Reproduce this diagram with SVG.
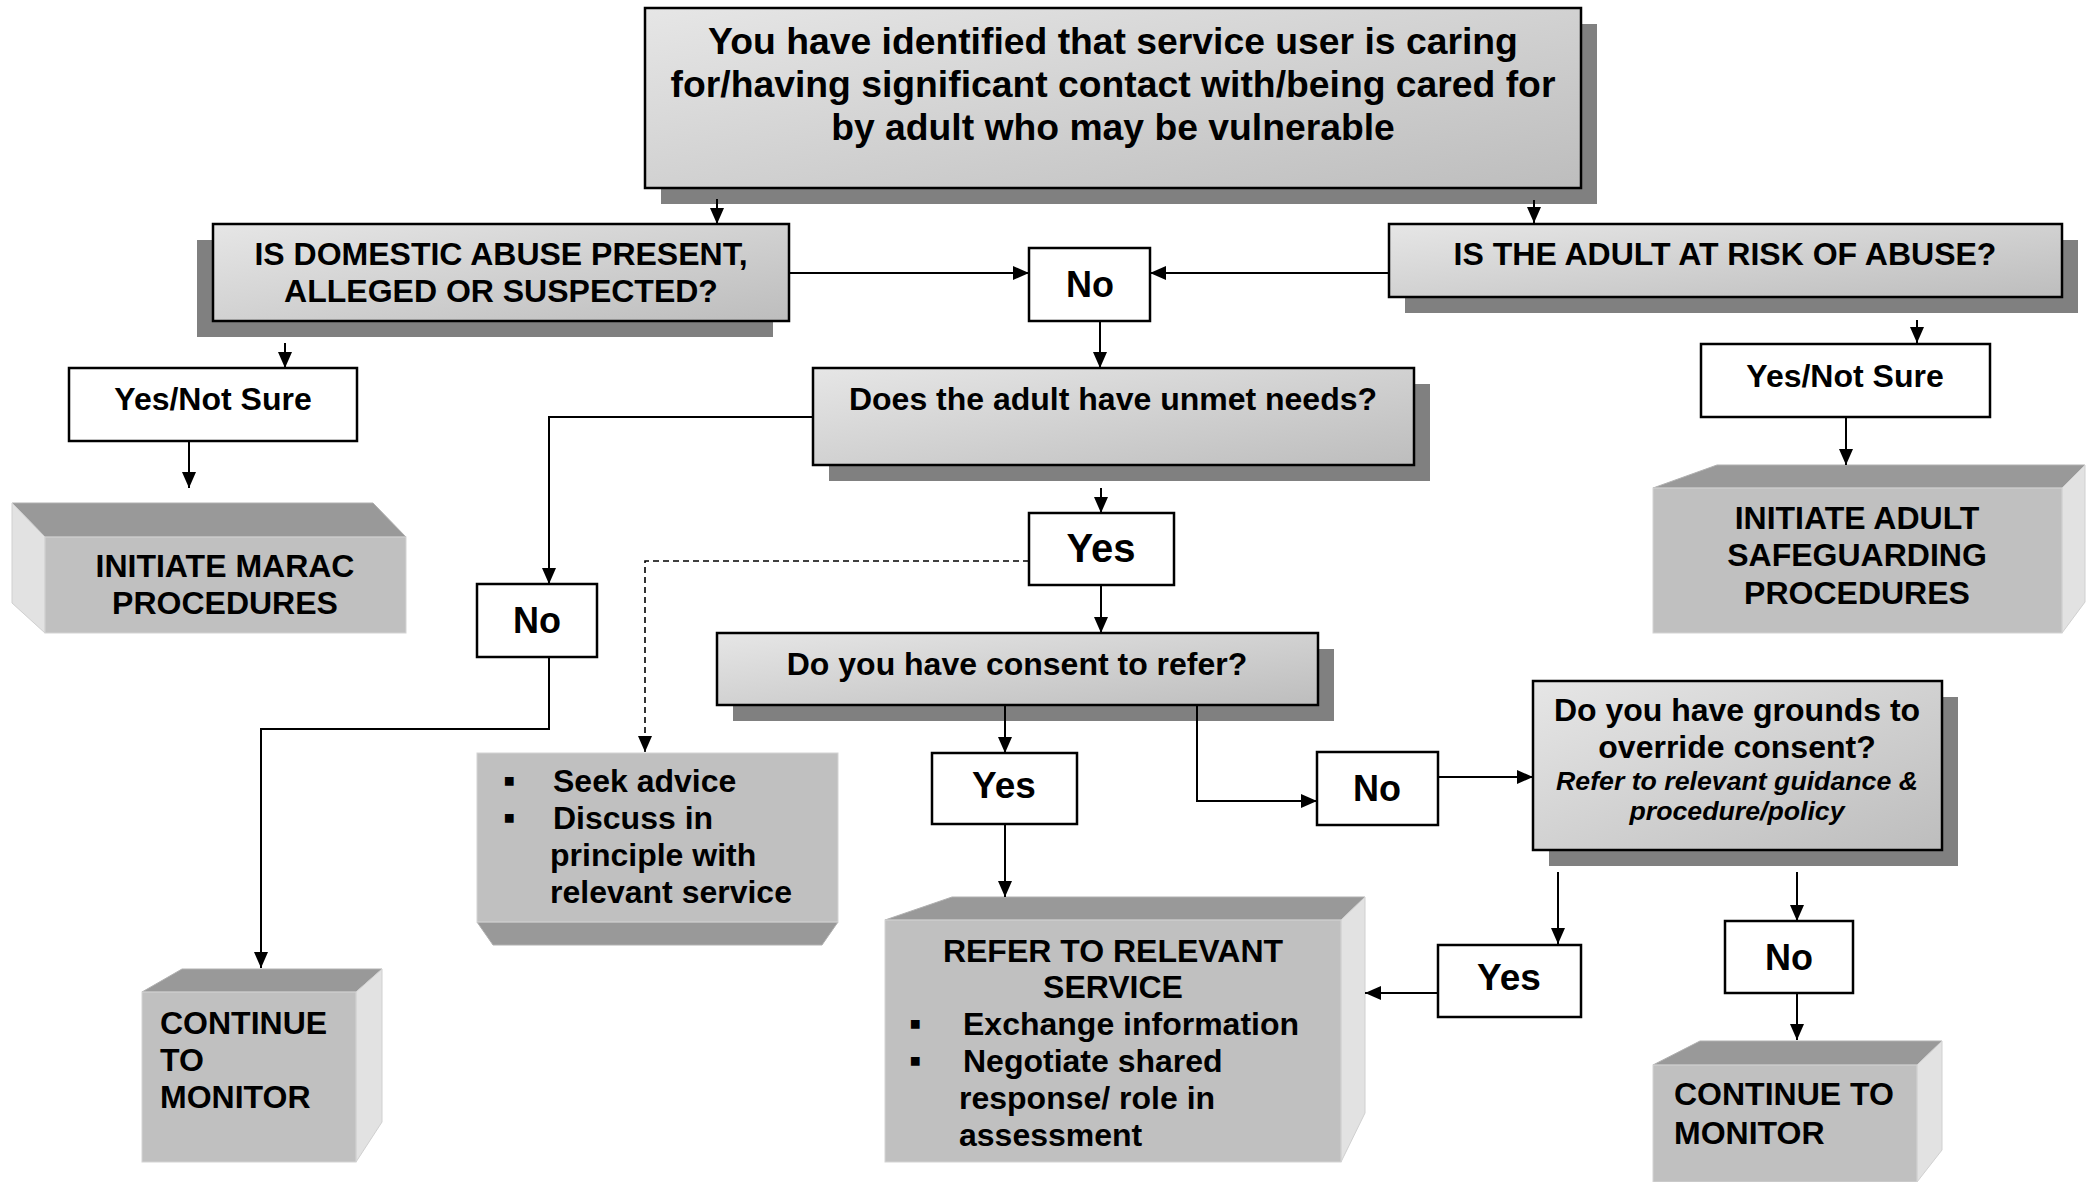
<svg xmlns="http://www.w3.org/2000/svg" width="2096" height="1182" viewBox="0 0 2096 1182">
  <defs>
    <linearGradient id="boxGrad" x1="0" y1="0" x2="1" y2="1">
      <stop offset="0" stop-color="#e6e6e6"/>
      <stop offset="1" stop-color="#bdbdbd"/>
    </linearGradient>
    <marker id="ah" viewBox="0 0 16 14" refX="16" refY="7" markerWidth="16" markerHeight="14" markerUnits="userSpaceOnUse" orient="auto">
      <path d="M0,0 L16,7 L0,14 z" fill="#000"/>
    </marker>
  </defs>
  <style>
    .t { font-family: "Liberation Sans", Arial, sans-serif; font-weight: bold; fill: #000; }
    .c { text-anchor: middle; }
    .f32 { font-size: 32px; }
    .it { font-style: italic; font-size: 26.7px; }
    .bul { font-size: 35px; }
    .box { fill: url(#boxGrad); stroke: #000; stroke-width: 2.5; }
    .plain { fill: #fff; stroke: #000; stroke-width: 2.5; }
    .shadow { fill: #808080; }
    .front { fill: #c0c0c0; stroke: #d4d4d4; stroke-width: 1; }
    .topface { fill: #999999; stroke: #b0b0b0; stroke-width: 1; }
    .sideface { fill: #e2e2e2; stroke: #d0d0d0; stroke-width: 1; }
    .conn { fill: none; stroke: #000; stroke-width: 2; }
    .arrow { marker-end: url(#ah); }
    .dash { stroke-dasharray: 6 4; stroke-width: 1.6; }
  </style>

  <rect width="2096" height="1182" fill="#fff"/>

  <!-- start node -->
  <g id="start">
    <rect class="shadow" x="661" y="24" width="936" height="180"/>
    <rect class="box" x="645" y="8" width="936" height="180"/>
    <text class="t c" font-size="37.3" x="1113" y="54">You have identified that service user is caring</text>
    <text class="t c" font-size="37.3" x="1113" y="97">for/having significant contact with/being cared for</text>
    <text class="t c" font-size="37.3" x="1113" y="140">by adult who may be vulnerable</text>
  </g>

  <g id="domestic-abuse">
    <rect class="shadow" x="197" y="240" width="576" height="97"/>
    <rect class="box" x="213" y="224" width="576" height="97"/>
    <text class="t c f32" x="501" y="265">IS DOMESTIC ABUSE PRESENT,</text>
    <text class="t c f32" x="501" y="302">ALLEGED OR SUSPECTED?</text>
  </g>

  <g id="adult-at-risk">
    <rect class="shadow" x="1405" y="240" width="673" height="73"/>
    <rect class="box" x="1389" y="224" width="673" height="73"/>
    <text class="t c f32" x="1725" y="265">IS THE ADULT AT RISK OF ABUSE?</text>
  </g>

  <g id="no-top">
    <rect class="plain" x="1029" y="248" width="121" height="73"/>
    <text class="t c" font-size="36" x="1090" y="297">No</text>
  </g>

  <g id="yes-not-sure-left">
    <rect class="plain" x="69" y="368" width="288" height="73"/>
    <text class="t c f32" x="213" y="410">Yes/Not Sure</text>
  </g>

  <g id="yes-not-sure-right">
    <rect class="plain" x="1701" y="344" width="289" height="73"/>
    <text class="t c f32" x="1845" y="387">Yes/Not Sure</text>
  </g>

  <g id="unmet-needs">
    <rect class="shadow" x="829" y="384" width="601" height="97"/>
    <rect class="box" x="813" y="368" width="601" height="97"/>
    <text class="t c f32" x="1113" y="410">Does the adult have unmet needs?</text>
  </g>

  <g id="marac">
    <polygon class="topface" points="12,503 373,503 406,537 45,537"/>
    <polygon class="sideface" points="12,503 45,537 45,633 12,603"/>
    <rect class="front" x="45" y="537" width="361" height="96"/>
    <text class="t c f32" x="225" y="577">INITIATE MARAC</text>
    <text class="t c f32" x="225" y="614">PROCEDURES</text>
  </g>

  <g id="safeguarding">
    <polygon class="topface" points="1717,465 2085,465 2062,488 1653,488"/>
    <polygon class="sideface" points="2062,488 2085,465 2085,602 2062,633"/>
    <rect class="front" x="1653" y="488" width="409" height="145"/>
    <text class="t c f32" x="1857" y="529">INITIATE ADULT</text>
    <text class="t c f32" x="1857" y="566">SAFEGUARDING</text>
    <text class="t c f32" x="1857" y="604">PROCEDURES</text>
  </g>

  <g id="yes-center">
    <rect class="plain" x="1029" y="513" width="145" height="72"/>
    <text class="t c" font-size="40" x="1101" y="562">Yes</text>
  </g>

  <g id="no-left">
    <rect class="plain" x="477" y="584" width="120" height="73"/>
    <text class="t c" font-size="36" x="537" y="633">No</text>
  </g>

  <g id="consent">
    <rect class="shadow" x="733" y="649" width="601" height="72"/>
    <rect class="box" x="717" y="633" width="601" height="72"/>
    <text class="t c f32" x="1017" y="675">Do you have consent to refer?</text>
  </g>

  <g id="grounds">
    <rect class="shadow" x="1549" y="697" width="409" height="169"/>
    <rect class="box" x="1533" y="681" width="409" height="169"/>
    <text class="t c f32" x="1737" y="721">Do you have grounds to</text>
    <text class="t c f32" x="1737" y="758">override consent?</text>
    <text class="t c it" x="1737" y="790">Refer to relevant guidance &amp;</text>
    <text class="t c it" x="1737" y="820">procedure/policy</text>
  </g>

  <g id="seek-advice">
    <polygon class="topface" points="477,922 838,922 822,945 493,945"/>
    <rect class="front" x="477" y="753" width="361" height="169"/>
    <text class="t f32" y="792"><tspan class="bul" x="503">▪</tspan><tspan x="553">Seek advice</tspan></text>
    <text class="t f32" y="829"><tspan class="bul" x="503">▪</tspan><tspan x="553">Discuss in</tspan></text>
    <text class="t f32" x="550" y="866">principle with</text>
    <text class="t f32" x="550" y="903">relevant service</text>
  </g>

  <g id="yes-lower">
    <rect class="plain" x="932" y="753" width="145" height="71"/>
    <text class="t c" font-size="37" x="1004" y="798">Yes</text>
  </g>

  <g id="no-right">
    <rect class="plain" x="1317" y="752" width="121" height="73"/>
    <text class="t c" font-size="36" x="1377" y="801">No</text>
  </g>

  <g id="yes-right">
    <rect class="plain" x="1438" y="945" width="143" height="72"/>
    <text class="t c" font-size="37" x="1509" y="990">Yes</text>
  </g>

  <g id="no-bottom">
    <rect class="plain" x="1725" y="921" width="128" height="72"/>
    <text class="t c" font-size="36" x="1789" y="970">No</text>
  </g>

  <g id="refer">
    <polygon class="topface" points="952,897 1365,897 1341,920 885,920"/>
    <polygon class="sideface" points="1341,920 1365,897 1365,1113 1341,1162"/>
    <rect class="front" x="885" y="920" width="456" height="242"/>
    <text class="t c f32" x="1113" y="962">REFER TO RELEVANT</text>
    <text class="t c f32" x="1113" y="998">SERVICE</text>
    <text class="t f32" y="1035"><tspan class="bul" x="909">▪</tspan><tspan x="963">Exchange information</tspan></text>
    <text class="t f32" y="1072"><tspan class="bul" x="909">▪</tspan><tspan x="963">Negotiate shared</tspan></text>
    <text class="t f32" x="959" y="1109">response/ role in</text>
    <text class="t f32" x="959" y="1146">assessment</text>
  </g>

  <g id="monitor-left">
    <polygon class="topface" points="182,969 382,969 356,992 142,992"/>
    <polygon class="sideface" points="356,992 382,969 382,1122 356,1162"/>
    <rect class="front" x="142" y="992" width="214" height="170"/>
    <text class="t f32" x="160" y="1034">CONTINUE</text>
    <text class="t f32" x="160" y="1071">TO</text>
    <text class="t f32" x="160" y="1108">MONITOR</text>
  </g>

  <g id="monitor-right">
    <polygon class="topface" points="1700,1041 1942,1041 1917,1065 1653,1065"/>
    <polygon class="sideface" points="1917,1065 1942,1041 1942,1150 1917,1182"/>
    <rect class="front" x="1653" y="1065" width="264" height="117"/>
    <text class="t f32" x="1674" y="1105">CONTINUE TO</text>
    <text class="t f32" x="1674" y="1144">MONITOR</text>
  </g>

  <!-- connectors, drawn over the drop shadows -->
  <g id="connectors">
    <path class="conn arrow" d="M717,199 V224"/>
    <path class="conn arrow" d="M1534,200 V223"/>
    <path class="conn arrow" d="M789,273 H1029"/>
    <path class="conn arrow" d="M1389,273 H1150"/>
    <path class="conn arrow" d="M1100,321 V368"/>
    <path class="conn arrow" d="M285,343 V368"/>
    <path class="conn arrow" d="M189,441 V488"/>
    <path class="conn arrow" d="M1917,320 V343"/>
    <path class="conn arrow" d="M1846,417 V465"/>
    <path class="conn arrow" d="M813,417 H549 V584"/>
    <path class="conn arrow" d="M549,657 V729 H261 V968"/>
    <path class="conn arrow" d="M1101,488 V513"/>
    <path class="conn arrow dash" d="M1029,561 H645 V752"/>
    <path class="conn arrow" d="M1101,585 V633"/>
    <path class="conn arrow" d="M1005,706 V753"/>
    <path class="conn arrow" d="M1005,824 V897"/>
    <path class="conn arrow" d="M1197,706 V801 H1317"/>
    <path class="conn arrow" d="M1438,777 H1533"/>
    <path class="conn arrow" d="M1558,872 V944"/>
    <path class="conn arrow" d="M1797,872 V921"/>
    <path class="conn arrow" d="M1438,993 H1365"/>
    <path class="conn arrow" d="M1797,993 V1040"/>
  </g>
</svg>
